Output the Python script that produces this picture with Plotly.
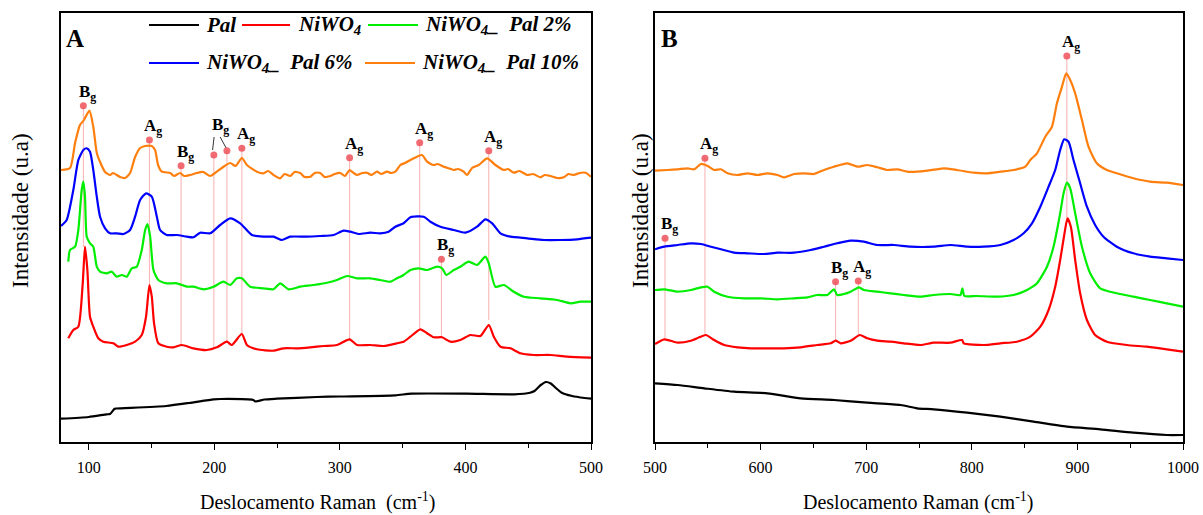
import plotly.graph_objects as go

W, H = 1203, 515
SERIF = "Liberation Serif, Times New Roman, serif"

# ---------------- Panel A data (Raman shift cm-1, intensity a.u.) ----------------
pal_a_x = [78, 100, 114.4, 117, 120.7, 122, 161.7, 180, 199.5, 205, 231, 233, 240, 249.9, 281.5, 300,
           344.2, 357, 400.8, 438.9, 451.5, 455, 460, 464.1, 468, 472, 476.6, 485, 495, 500]
pal_a_y = [23.3, 25, 27.7, 28, 33.3, 33.5, 36, 39, 42.7, 43, 42, 40.5, 42.5, 43.3, 45, 45.5,
           46.7, 48.3, 48.3, 47.7, 49.3, 51, 57, 60, 58.5, 54, 49.3, 46, 44, 43.3]

niwo_a_x = [83.8, 87.8, 91.8, 95.3, 97.1, 99.0, 101.1, 103.7, 107.7, 111.7, 119.7, 123.7, 130.4, 137.0,
            142.3, 145.7, 148.4, 150.3, 152.1, 155.5, 162.2, 167.5, 174.2, 183.4, 194.1, 202.1, 210.1,
            214.0, 222.0, 226.0, 234.0, 247.2, 255.2, 265.9, 276.5, 287.1, 297.7, 307.8, 313.7, 324.3,
            334.9, 345.6, 350.8, 356.2, 364.1, 369.5, 374.7, 381.4, 388.0, 396.0, 404.0, 411.9, 418.6,
            422.6, 427.9, 435.9, 443.8, 454.4, 467.7, 481.0, 500]
niwo_a_y = [103.7, 112, 115.3, 158.7, 195.3, 172, 125.3, 115.3, 103.7, 100.3, 98.7, 95.3, 97, 100.3,
            107, 125.3, 157, 145.3, 118.7, 98.7, 95.3, 94.7, 97, 93.7, 92, 94.7, 100.3,
            97, 108, 97, 92.7, 91.3, 93.7, 93.7, 94.7, 96, 97, 102.7, 97, 97,
            96, 98.7, 100.3, 105.3, 112.7, 108.7, 104.7, 104.7, 100.3, 102, 107, 106, 117,
            105.3, 95.3, 93.7, 88.7, 87, 87, 85.3, 84.3]

p2_a_x = [83.8, 85.2, 89.2, 91.8, 94.5, 95.8, 97.1, 98.5, 101.1, 103.7, 106.5, 109.1, 114.4, 118.4, 122.4,
          126.4, 130.4, 134.3, 138.3, 142.3, 145.0, 146.9, 149.0, 151.6, 155.5, 162.2, 170.2, 178.2,
          183.4, 191.4, 199.4, 207.4, 212.7, 218.0, 222.0, 228.6, 239.3, 247.2, 252.5, 259.2, 268.5,
          279.1, 289.8, 297.7, 305.7, 313.7, 324.3, 332.2, 340.2, 345.6, 350.8, 356.2, 362.8, 369.5,
          377.4, 381.4, 384.8, 390.7, 396.0, 402.6, 409.3, 415.9, 418.6, 423.9, 430.6, 438.5, 446.5,
          459.8, 473.1, 483.7, 491.6, 500]
p2_a_y = [180.3, 192, 195.3, 212, 252, 260.3, 245.3, 205.3, 198.7, 195.3, 175.3, 170.3, 168.7, 170.3, 165.3,
          167, 165.3, 173.7, 175.3, 192, 212, 218, 205.3, 172, 162, 158.7, 158.7, 155.3,
          155.3, 152.7, 155.3, 160.3, 157, 163.7, 163.7, 155.3, 153.7, 152.7, 158.7, 152.7, 155.3,
          157, 159.3, 162, 166, 163.7, 163.7, 162, 160.3, 163.7, 167, 172, 173.7, 172,
          175.3, 173.7, 167, 172, 175.3, 180.3, 177, 185.3, 178.7, 155.3, 157, 150.3, 145.3,
          143.7, 142, 138.7, 140.3, 140.3]

p6_a_x = [78, 82.5, 87.8, 91.8, 95.8, 98.5, 101.1, 103.7, 106.5, 109.1, 113.1, 117.1, 122.4, 127.7, 133.0,
          137.0, 141.0, 145.7, 150.3, 154.3, 156.9, 162.2, 170.2, 178.2, 183.4, 188.8, 196.8, 204.7,
          212.7, 220.7, 230.0, 239.3, 247.2, 253.9, 260.5, 273.8, 284.4, 295.0, 303.0, 308.3, 314.9,
          324.3, 332.2, 338.9, 344.2, 350.8, 356.2, 366.8, 372.1, 380.1, 390.7, 400.0, 409.3, 415.9,
          421.3, 427.9, 435.9, 449.2, 462.4, 475.7, 489.0, 500]
p6_a_y = [216, 222, 252, 282, 292, 293.7, 290.3, 272, 245.3, 225.3, 213.7, 208.7, 208.7, 208, 212,
          225.3, 242, 248.7, 245.3, 225.3, 212, 207, 207, 205.3, 204.7, 209.3, 208.7, 217,
          223.7, 218.7, 207, 205.3, 205.3, 202, 205.3, 205.3, 206, 207, 211.3, 210.3, 208,
          209.3, 208.7, 210.3, 215.3, 218.7, 224.7, 225.3, 220.3, 215.3, 212, 209.3, 215.3, 222.7,
          218.7, 208.7, 205.3, 203.7, 202, 202, 202.7, 204.3]

p10_a_x = [78, 85.2, 89.2, 93.1, 96.3, 100.6, 103.7, 106.5, 109.1, 113.1, 117.1, 119.4, 125, 129, 133, 137,
           141, 145, 150.3, 152.9, 155.3, 158.3, 164.9, 168, 172.8, 176, 180.8, 186.2, 191.2, 196.8,
           202.1, 207.1, 212.7, 217, 222, 226, 234, 239.2, 243, 247.2, 252.5, 256, 260.5, 264, 268.5,
           272, 276.5, 280, 284.4, 288, 292.4, 296, 300.4, 304, 307.8, 310, 313.7, 318, 321.6, 325,
           329.6, 333, 337.6, 341, 344.2, 348.2, 352, 356.2, 361.5, 365.5, 369.5, 374.7, 378, 382.7,
           386, 390.7, 394, 398.6, 401.3, 405.3, 410.6, 417.3, 423.9, 430.6, 434, 438.5, 443, 449.2,
           454, 459.8, 463, 467.7, 473, 478.3, 482, 486.3, 491, 495.6, 500]
p10_a_y = [272, 274, 299, 317, 322, 331.3, 315.3, 289, 280, 270, 267, 269, 265, 264, 269, 285,
           294, 296, 296, 292, 277, 270.3, 269, 266, 269, 266, 267, 269, 270, 266,
           270.3, 275, 279, 276, 284, 277, 270.3, 268.7, 271, 267, 263.7, 268, 266, 270, 269,
           265, 265.3, 269, 269, 265, 266, 268, 269, 266, 272, 270, 267, 269, 269.3, 267,
           270.3, 268, 270.3, 269, 270.3, 277, 279, 282, 285.3, 287, 280.3, 277, 278, 275.3,
           274, 272, 273, 270.3, 267, 274, 277, 283.7, 277, 272, 273, 269.3, 271, 267,
           268, 264.7, 267, 266, 264, 264.7, 268, 267, 269, 269.3, 265.3]

# ---------------- Panel B data ----------------
pal_b_x = [500, 521.5, 546.6, 575, 606.5, 638, 669.5, 701, 732.5, 748.3, 764, 795.6, 827, 858.5, 890.1,
           921.6, 953, 984.6, 1000]
pal_b_y = [58.7, 57, 53.7, 50.3, 48.7, 43.7, 42, 39.3, 37, 33.7, 32.7, 29.3, 25.3, 20.3, 15.3,
           12.7, 9.3, 7, 7]

niwo_b_x = [500, 508.8, 521.5, 534, 541.9, 548.2, 556, 565.5, 578.2, 590.7, 606.5, 622.2, 638, 653.8, 666.4,
            671.1, 675.8, 685.3, 694, 701, 710.5, 723.1, 735.6, 751.4, 764, 779.8, 790.8, 792.4, 811.3,
            827, 842.8, 855.4, 864.9, 872.7, 879, 883.7, 887.8, 890.6, 893.8, 897.9, 902.6, 909, 916.8,
            927.9, 946.8, 965.7, 984.6, 1000]
niwo_b_y = [98, 102.7, 99.3, 101.3, 104.7, 107, 102, 97, 94.7, 93.7, 93.7, 93.7, 94.7, 97, 98.7,
            101.3, 98.7, 101.3, 107, 103.7, 101.3, 100.3, 98.7, 97, 99.3, 99.3, 102, 98.7, 97,
            98.7, 100.3, 105.3, 115.3, 132, 155.3, 182, 208.7, 223.7, 215.3, 182, 148.7, 122, 107,
            100.3, 97, 95.3, 92.7, 90.3]

p2_b_x = [500, 508.8, 521.5, 534, 543.5, 549.8, 556, 568.7, 584.4, 600.2, 616, 631.7, 644.3, 653.8, 663.2,
          669.5, 672.6, 678.9, 685.2, 693.1, 697.8, 710.5, 723, 735.6, 751.5, 764, 779.8, 789.2, 791.1,
          793, 805, 823.9, 839.6, 852.3, 861.7, 871.2, 877.4, 883.7, 886.9, 890.1, 893.2, 897.9, 904.3,
          912.1, 921.6, 937.3, 953, 968.8, 984.6, 1000]
p2_b_y = [152, 152.7, 150.3, 152, 154.7, 155.3, 150.3, 145.3, 143.7, 143.7, 142.7, 143.7, 144.7, 147, 147,
          152.7, 147, 148, 150.3, 154.7, 152, 150.3, 148.7, 147, 145.3, 147, 148, 147, 153.7,
          146, 146, 145.3, 147, 152, 158.7, 175.3, 195.3, 228.7, 248.7, 259.3, 253.7, 228.7, 195.3,
          168.7, 153.7, 148.7, 145.3, 142, 138.7, 135.3]

p6_b_x = [500, 508.8, 521.5, 534, 543.5, 553, 562.4, 575, 587.6, 603.3, 616, 631.7, 647.5, 660, 672.6,
          685.2, 697.8, 710.5, 726.2, 742, 764, 779.8, 795.6, 811.3, 827, 839.6, 849.1, 857, 864.9,
          872.7, 879, 883.7, 887.5, 891.6, 896.3, 902.6, 909, 916.8, 924.7, 937.3, 953, 968.8, 984.6, 1000]
p6_b_y = [192.7, 195.3, 197, 198.7, 198, 195.3, 192.7, 189.3, 188.7, 188, 189.3, 189.3, 192, 195.3, 198.7,
          201.3, 200.3, 197, 197, 195.3, 195.3, 197, 195.3, 195.3, 197, 202, 208.7, 218.7, 235.3,
          255.3, 272, 292, 302.7, 300.3, 282, 258.7, 235.3, 217, 205.3, 195.3, 188.7, 185.3, 183.7, 182]

p10_b_x = [500, 512, 521.5, 530.9, 537.1, 543.5, 549.8, 556, 562.4, 568.7, 578.2, 587.6, 597.1, 606.5, 616,
           622.2, 631.7, 641.1, 650.6, 660, 669.5, 682.1, 691.6, 701, 710.5, 720, 729.4, 738.8, 748.3,
           757.8, 773.4, 786.1, 801.8, 814.5, 827, 839.6, 850.7, 855.4, 861.7, 869.6, 875.9, 880.6,
           885.4, 889.4, 893.2, 897.9, 904.3, 910.5, 918.4, 927.9, 937.3, 953, 968.8, 984.6, 1000]
p10_b_y = [271.3, 272, 272.7, 273.7, 272.7, 278, 276, 272, 272.7, 268.7, 267, 268.7, 267, 268.7, 267,
           264.7, 268, 268.7, 268, 272, 275.3, 278.7, 275.3, 277, 274.7, 272, 272.7, 270.3, 270.3,
           271.3, 273.7, 272, 269.3, 268.7, 270.3, 272, 275.3, 282, 288.7, 305.3, 315.3, 338.7,
           355.3, 368.7, 362, 348.7, 322, 295.3, 278.7, 272, 268.7, 263.7, 260.3, 259.3, 257]

# ---------------- Peak assignments ----------------
peak_a_x = [95.8, 148.4, 173.6, 199.7, 210.1, 222.0, 307.8, 363.6, 380.9, 418.6]
peak_a_top = [336.3, 302, 276.3, 287, 291.3, 293.7, 284.3, 299.3, 182.7, 291.3]
peak_a_bottom = [195, 157, 95.3, 94, 100.3, 108, 102.7, 112.7, 104.7, 122]
peak_a_label = ["B", "A", "B", "", "", "A", "A", "A", "B", "A"]
pair_label_a = ("B", 202.3, 316)          # shared label for the 199/210 modes
pair_leaders_a = [(199.9, 305, 198.7, 292), (204.7, 305, 209.5, 294)]

peak_b_x = [509.5, 547.3, 671.0, 692.5, 890.0]
peak_b_top = [203.7, 283.7, 160.3, 161, 386]
peak_b_bottom = [103, 107, 101, 107, 223.7]
peak_b_label = ["B", "A", "B", "A", "A"]

series_names = ["Pal", "NiWO<sub>4</sub>", "NiWO<sub>4</sub>_\u00a0 Pal 2%",
                "NiWO<sub>4</sub>_\u00a0 Pal 6%", "NiWO<sub>4</sub>_\u00a0 Pal 10%"]
colors = ["#000000", "#ff0000", "#00ee00", "#0000ff", "#ff7f0e"]

# ---------------- layout geometry (pixels) ----------------
ML, MR, MT, MB = 61, 20, 13, 73
PW, PH = W - ML - MR, H - MT - MB


def P(xp, yp):
    """pixel position -> paper fraction of the plotting area"""
    return (xp - ML) / PW, (H - MB - yp) / PH


fig = go.Figure()


def vlines(xs, tops, bottoms, xa, ya):
    vx, vy = [], []
    for x, t, b in zip(xs, tops, bottoms):
        vx += [x, x, None]
        vy += [b, t, None]
    fig.add_trace(go.Scatter(x=vx, y=vy, mode="lines", xaxis=xa, yaxis=ya,
                             line=dict(color="rgba(240,80,80,0.45)", width=1),
                             showlegend=False, hoverinfo="skip"))


vlines(peak_a_x, peak_a_top, peak_a_bottom, "x", "y")
vlines(peak_b_x, peak_b_top, peak_b_bottom, "x2", "y2")
lx, ly = [], []
for x0, y0, x1, y1 in pair_leaders_a:
    lx += [x0, x1, None]
    ly += [y0, y1, None]
fig.add_trace(go.Scatter(x=lx, y=ly, mode="lines", xaxis="x", yaxis="y",
                         line=dict(color="black", width=0.8), showlegend=False, hoverinfo="skip"))

series_a = [(pal_a_x, pal_a_y), (niwo_a_x, niwo_a_y), (p2_a_x, p2_a_y), (p6_a_x, p6_a_y), (p10_a_x, p10_a_y)]
series_b = [(pal_b_x, pal_b_y), (niwo_b_x, niwo_b_y), (p2_b_x, p2_b_y), (p6_b_x, p6_b_y), (p10_b_x, p10_b_y)]

for i, ((xa_, ya_), (xb_, yb_)) in enumerate(zip(series_a, series_b)):
    fig.add_trace(go.Scatter(x=xa_, y=ya_, mode="lines", xaxis="x", yaxis="y",
                             line=dict(color=colors[i], width=2.2, shape="spline", smoothing=0.6),
                             name=series_names[i], showlegend=False))
    fig.add_trace(go.Scatter(x=xb_, y=yb_, mode="lines", xaxis="x2", yaxis="y2",
                             line=dict(color=colors[i], width=2.2, shape="spline", smoothing=0.6),
                             name=series_names[i], showlegend=False))

dot_style = dict(size=7, color="rgba(238,70,80,0.8)")
fig.add_trace(go.Scatter(x=peak_a_x, y=peak_a_top, mode="markers", xaxis="x", yaxis="y",
                         marker=dot_style, showlegend=False, hoverinfo="skip"))
fig.add_trace(go.Scatter(x=peak_b_x, y=peak_b_top, mode="markers", xaxis="x2", yaxis="y2",
                         marker=dot_style, showlegend=False, hoverinfo="skip"))

annotations = []
lab_font = dict(family=SERIF, size=17, color="black")
for x, t, lab in zip(peak_a_x, peak_a_top, peak_a_label):
    if lab:
        annotations.append(dict(x=x, y=t, xref="x", yref="y", text="<b>%s<sub>g</sub></b>" % lab,
                                showarrow=False, xanchor="center", yanchor="bottom",
                                xshift=4, yshift=0, font=lab_font))
annotations.append(dict(x=pair_label_a[1], y=pair_label_a[2], xref="x", yref="y",
                        text="<b>%s<sub>g</sub></b>" % pair_label_a[0], showarrow=False,
                        xanchor="center", yanchor="middle", xshift=3, font=lab_font))
for x, t, lab in zip(peak_b_x, peak_b_top, peak_b_label):
    annotations.append(dict(x=x, y=t, xref="x2", yref="y2", text="<b>%s<sub>g</sub></b>" % lab,
                            showarrow=False, xanchor="center", yanchor="bottom",
                            xshift=4, yshift=0, font=lab_font))

# panel letters
for letter, xp in (("A", 64), ("B", 659)):
    px_, py_ = P(xp, 38)
    annotations.append(dict(x=px_, y=py_, xref="paper", yref="paper", text="<b>%s</b>" % letter,
                            showarrow=False, xanchor="left", yanchor="middle",
                            font=dict(family=SERIF, size=25, color="black")))

# axis titles
for xp, txt in ((318, "Deslocamento Raman\u00a0 (cm<sup>-1</sup>)"), (918, "Deslocamento Raman (cm<sup>-1</sup>)")):
    px_, py_ = P(xp, 501)
    annotations.append(dict(x=px_, y=py_, xref="paper", yref="paper", text=txt, showarrow=False,
                            xanchor="center", yanchor="middle",
                            font=dict(family=SERIF, size=20, color="black")))
for xp in (20, 640):
    px_, py_ = P(xp, 211)
    annotations.append(dict(x=px_, y=py_, xref="paper", yref="paper", text="Intensidade (u.a)",
                            showarrow=False, textangle=-90, xanchor="center", yanchor="middle",
                            font=dict(family=SERIF, size=23, color="black")))

# legend (manual, two rows)
shapes = []
leg_font = dict(family=SERIF, size=21, color="black")
legend_rows = [
    (25, [(0, 149, 199, 204), (1, 242, 290, 296), (2, 368, 418, 423)]),
    (63, [(3, 149, 199, 204), (4, 365, 415, 420)]),
]
for yrow, items in legend_rows:
    for idx, x0, x1, xt in items:
        a0, b0 = P(x0, yrow)
        a1, _ = P(x1, yrow)
        shapes.append(dict(type="line", xref="paper", yref="paper", x0=a0, x1=a1, y0=b0, y1=b0,
                           line=dict(color=colors[idx], width=2)))
        tx, ty = P(xt, yrow)
        annotations.append(dict(x=tx, y=ty, xref="paper", yref="paper",
                                text="<b><i>%s</i></b>" % series_names[idx], showarrow=False,
                                xanchor="left", yanchor="middle", font=leg_font))

axis_common = dict(showline=True, mirror=True, linecolor="black", linewidth=1.6, showgrid=False,
                   zeroline=False)
xcommon = dict(axis_common, ticks="outside", ticklen=6, tickwidth=1.3, tickcolor="black",
               tickmode="linear", tick0=0, dtick=100, ticklabelstandoff=4,
               tickfont=dict(family=SERIF, size=16, color="black"),
               minor=dict(ticks="outside", ticklen=4, tickwidth=1.3, tickcolor="black", dtick=50, tick0=0))
ycommon = dict(axis_common, showticklabels=False, ticks="", range=[0, H - MB - MT])

fig.update_layout(
    width=W, height=H, margin=dict(l=ML, r=MR, t=MT, b=MB, autoexpand=False),
    paper_bgcolor="white", plot_bgcolor="white", showlegend=False,
    xaxis=dict(xcommon, domain=[0, (591 - ML) / PW], range=[78, 500], anchor="y"),
    yaxis=dict(ycommon, domain=[0, 1], anchor="x"),
    xaxis2=dict(xcommon, domain=[(655 - ML) / PW, 1], range=[500, 1000], anchor="y2"),
    yaxis2=dict(ycommon, domain=[0, 1], anchor="x2"),
    annotations=annotations, shapes=shapes,
)

fig.write_html("out.html")
